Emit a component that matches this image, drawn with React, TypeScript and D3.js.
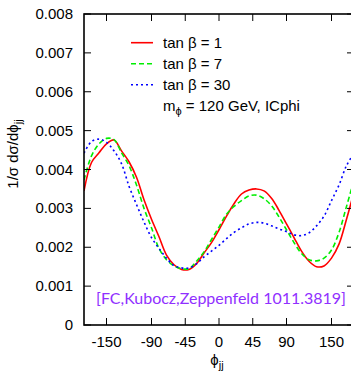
import React from "react";
import * as d3 from "d3";

// azimuthal angle grid (degrees)
const phiGrid = [
  -180, -170, -160, -150, -140, -130, -120, -110, -100, -90, -80, -70, -60, -50, -40, -30, -20, -10,
  0, 10, 20, 30, 40, 50, 60, 70, 80, 90, 100, 110, 120, 130, 140, 150, 160, 170, 180,
];

// normalised distributions, units of 1e-3
const tanb1 = [
  3.45, 4.18, 4.43, 4.66, 4.76, 4.48, 4.2, 3.8, 3.22, 2.72, 2.27, 1.8, 1.55, 1.43, 1.43, 1.58, 1.85, 2.12,
  2.45, 2.8, 3.12, 3.37, 3.47, 3.5, 3.45, 3.26, 2.95, 2.6, 2.25, 1.9, 1.64, 1.5, 1.52, 1.72, 2.08, 2.72, 3.42,
];
const tanb7 = [
  3.73, 4.35, 4.66, 4.8, 4.77, 4.43, 4.1, 3.6, 3.0, 2.5, 1.97, 1.68, 1.52, 1.45, 1.45, 1.64, 1.88, 2.2,
  2.52, 2.85, 3.05, 3.2, 3.32, 3.34, 3.25, 3.07, 2.78, 2.45, 2.12, 1.84, 1.68, 1.65, 1.72, 1.93, 2.38, 3.05, 3.73,
];
const tanb30 = [
  4.42, 4.72, 4.78, 4.7, 4.48, 4.15, 3.57, 3.1, 2.65, 2.25, 1.97, 1.72, 1.53, 1.47, 1.47, 1.57, 1.75, 1.9,
  2.05, 2.22, 2.38, 2.5, 2.6, 2.64, 2.62, 2.55, 2.47, 2.4, 2.32, 2.3, 2.37, 2.55, 2.8, 3.2, 3.6, 4.1, 4.42,
];

const xTicks = [-150, -90, -45, 0, 45, 90, 150];
const yTicks = [0, 0.001, 0.002, 0.003, 0.004, 0.005, 0.006, 0.007, 0.008];
const yTickLabels = ["0", "0.001", "0.002", "0.003", "0.004", "0.005", "0.006", "0.007", "0.008"];

const seriesNames = ["tan \u03b2 = 1", "tan \u03b2 = 7", "tan \u03b2 = 30"];
const seriesColors = ["#ff0000", "#00ee00", "#0000ff"];
const seriesDash = [null, "5,3", "2,3"];
const seriesValues = [tanb1, tanb7, tanb30];

const W = 351;
const H = 374;
const left = 84;
const right = 354;
const top = 14;
const bottom = 325;
const font = "'Liberation Sans', Arial, Helvetica, sans-serif";
const PHI = "\u03d5";

export default function App() {
  const x = d3.scaleLinear().domain([-180, 180]).range([left, right]);
  const y = d3.scaleLinear().domain([0, 0.008]).range([bottom, top]);

  const line = d3
    .line<[number, number]>()
    .x((d) => x(d[0]))
    .y((d) => y(d[1]))
    .curve(d3.curveCatmullRom.alpha(0.5));

  const paths = seriesValues.map((vals) =>
    line(phiGrid.map((p, i) => [p, vals[i] * 1e-3] as [number, number]))
  );

  const tick = 7;

  return (
    <svg
      width={W}
      height={H}
      style={{ position: "absolute", left: 0, top: 0, background: "#fff" }}
      fontFamily={font}
    >
      <defs>
        <clipPath id="plot-area">
          <rect x={left} y={top} width={right - left} height={bottom - top} />
        </clipPath>
      </defs>
      <rect x={0} y={0} width={W} height={H} fill="#fff" />

      {/* curves */}
      <g clipPath="url(#plot-area)">
        {paths.map((d, i) => (
          <path
            key={i}
            d={d || ""}
            fill="none"
            stroke={seriesColors[i]}
            strokeWidth={1.6}
            strokeDasharray={seriesDash[i] || undefined}
          />
        ))}
      </g>

      {/* frame */}
      <rect
        x={left}
        y={top}
        width={right - left}
        height={bottom - top}
        fill="none"
        stroke="#000"
        strokeWidth={1.6}
      />

      {/* x ticks */}
      {xTicks.map((t) => (
        <g key={"x" + t}>
          <line x1={x(t)} x2={x(t)} y1={bottom} y2={bottom - tick} stroke="#000" strokeWidth={1} />
          <line x1={x(t)} x2={x(t)} y1={top} y2={top + tick} stroke="#000" strokeWidth={1} />
          <text x={x(t)} y={347} textAnchor="middle" fontSize={15} fill="#000">
            {String(t)}
          </text>
        </g>
      ))}

      {/* y ticks */}
      {yTicks.map((t, i) => (
        <g key={"y" + t}>
          <line x1={left} x2={left + tick} y1={y(t)} y2={y(t)} stroke="#000" strokeWidth={1} />
          <line x1={right} x2={right - tick} y1={y(t)} y2={y(t)} stroke="#000" strokeWidth={1} />
          <text x={73} y={y(t) + 5} textAnchor="end" fontSize={15} fill="#000">
            {yTickLabels[i]}
          </text>
        </g>
      ))}

      {/* axis titles */}
      <text
        transform="translate(18,154) rotate(-90)"
        textAnchor="middle"
        fontSize={15}
        fill="#000"
      >
        {"1/\u03c3 d\u03c3/d" + PHI}
        <tspan dy={4} fontSize={11}>
          jj
        </tspan>
      </text>
      <text x={217} y={365} textAnchor="middle" fontSize={15} fill="#000">
        {PHI}
        <tspan dy={4} fontSize={11}>
          jj
        </tspan>
      </text>

      {/* legend */}
      {seriesNames.map((name, i) => {
        const ly = 42.7 + i * 21;
        return (
          <g key={name}>
            <line
              x1={131}
              x2={153}
              y1={ly}
              y2={ly}
              stroke={seriesColors[i]}
              strokeWidth={1.6}
              strokeDasharray={seriesDash[i] || undefined}
            />
            <text x={163} y={ly + 5} fontSize={15} fill="#000">
              {name}
            </text>
          </g>
        );
      })}
      <text x={163} y={42.7 + 3 * 21 + 5} fontSize={15} fill="#000">
        m
        <tspan dy={4} fontSize={11}>
          {PHI}
        </tspan>
        <tspan dy={-4}> = 120 GeV, ICphi</tspan>
      </text>

      {/* reference note */}
      <text
        x={96}
        y={304}
        fontSize={16}
        fill="#9030ff"
        fontFamily="Lato, 'Open Sans', sans-serif"
        textLength={250}
        lengthAdjust="spacingAndGlyphs"
      >
        [FC,Kubocz,Zeppenfeld 1011.3819]
      </text>
    </svg>
  );
}
